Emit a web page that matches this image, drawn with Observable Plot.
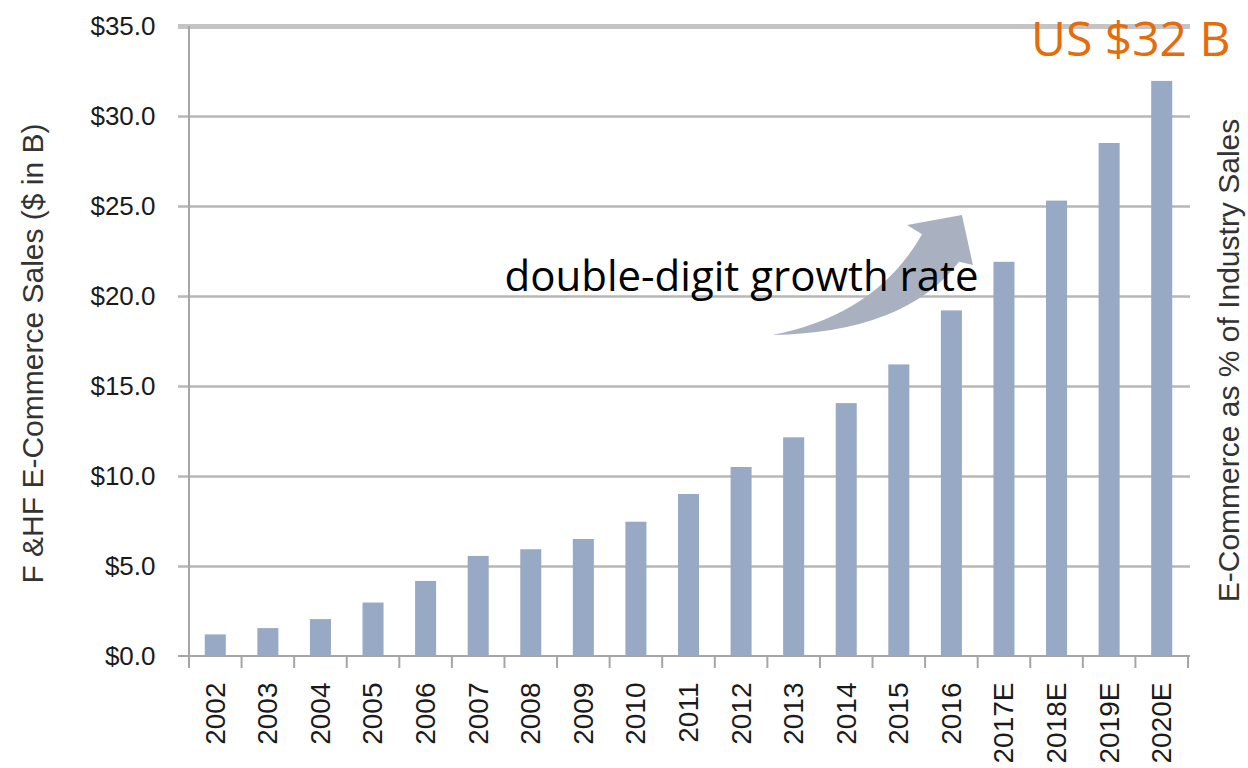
<!DOCTYPE html>
<html><head><meta charset="utf-8">
<script src="https://cdn.jsdelivr.net/npm/d3@7"></script>
<script src="https://cdn.jsdelivr.net/npm/@observablehq/plot@0.6"></script>
<style>
body{margin:0;background:#fff}
#chart{position:relative;width:1248px;height:768px}
</style>
</head><body><div id="chart"></div>
<script>
const years = ["2002","2003","2004","2005","2006","2007","2008","2009","2010","2011","2012","2013","2014","2015","2016","2017E","2018E","2019E","2020E"];
const sales = [1.2,1.55,2.05,2.97,4.17,5.56,5.93,6.5,7.46,9.0,10.5,12.15,14.05,16.2,19.2,21.9,25.3,28.5,31.95];
const yTicks = [0,5,10,15,20,25,30,35];
const yAxisTitle = "F &HF E-Commerce Sales ($ in B)";
const y2AxisTitle = "E-Commerce as % of Industry Sales";
const calloutText = "US $32 B";
const annotationText = "double-digit growth rate";
const annotationAt = {x: "2012", y: 20.33};
const arrowTail = {x: "2013", shift: -0.41, y: 17.83};
const arrowTip = {x: "2016", shift: 0.2, y: 24.5};

const data = years.map((year, i) => ({year, value: sales[i]}));

function bandGeom(x) {
  const bw = x.bandwidth();
  const step = x(years[1]) - x(years[0]);
  return {bw, step};
}

function axisLines(index, scales, values, dims) {
  const {x, y} = scales;
  const {bw, step} = bandGeom(x);
  const g = d3.create("svg:g").attr("stroke", "#a6a6a6").attr("stroke-width", 2);
  const yb = y(0), yt = y(35);
  const bounds = years.map(d => x(d) + bw / 2 - step / 2);
  bounds.push(bounds[bounds.length - 1] + step);
  g.append("line").attr("x1", bounds[0]).attr("x2", bounds[0]).attr("y1", yt).attr("y2", yb + 12);
  g.append("line").attr("x1", bounds[0] - 11).attr("x2", bounds[bounds.length - 1] + 2).attr("y1", yb).attr("y2", yb);
  bounds.slice(1).forEach(b => {
    g.append("line").attr("x1", b).attr("x2", b).attr("y1", yb).attr("y2", yb + 12);
  });
  return g.node();
}

function arrowShape(index, scales, values, dims) {
  const {x, y} = scales;
  const {bw, step} = bandGeom(x);
  const px = p => x(p.x) + bw / 2 + p.shift * step;
  const T = [px(arrowTail), y(arrowTail.y)];
  const P = [px(arrowTip), y(arrowTip.y)];
  const dx = P[0] - T[0], dy = P[1] - T[1];
  const at = (u, v) => `${T[0] + u * dx},${T[1] + v * dy}`;
  const d = `M${at(0,0)} Q${at(0.55,0.17)} ${at(0.79,0.84)} L${at(0.711,0.917)} L${at(1,1)} L${at(1.058,0.583)} L${at(0.985,0.61)} Q${at(0.70,0.02)} ${at(0,0)} Z`;
  return d3.create("svg:path").attr("d", d).attr("fill", "#a9b0bf").node();
}

const tickFont = "'Liberation Sans', Arial, sans-serif";
const noteFont = "'Open Sans', Lato, sans-serif";

const chart = Plot.plot({
  width: 1248,
  height: 768,
  marginLeft: 189,
  marginRight: 60,
  marginTop: 26,
  marginBottom: 112,
  x: {domain: years, paddingInner: 0.6, paddingOuter: 0.3, round: false, axis: null},
  y: {domain: [0, 35], axis: null},
  marks: [
    Plot.ruleY(yTicks.filter(d => d > 0 && d < 35), {stroke: "#b7b7b7", strokeWidth: 2.5, insetLeft: -11, insetRight: -2}),
    Plot.ruleY([35], {stroke: "#c4c4c4", strokeWidth: 5, insetLeft: -11, insetRight: -2}),
    Plot.barY(data, {x: "year", y: "value", fill: "#98a9c6"}),
    axisLines,
    Plot.axisY(yTicks, {tickSize: 0, tickPadding: 34, tickFormat: d => "$" + d.toFixed(1), fontSize: 26, fontFamily: tickFont, fill: "#1a1a1a", label: null}),
    Plot.text(years, {x: d => d, frameAnchor: "bottom", dy: 26, rotate: -90, textAnchor: "end", lineAnchor: "middle", fontSize: 28, fontFamily: tickFont, fill: "#1a1a1a"}),
    Plot.text([yAxisTitle], {frameAnchor: "left", dx: -156, dy: 12, rotate: -90, textAnchor: "middle", lineAnchor: "middle", fontSize: 30, fontFamily: tickFont, fill: "#333"}),
    Plot.text([y2AxisTitle], {frameAnchor: "right", dx: 41, dy: 19, rotate: -90, textAnchor: "middle", lineAnchor: "middle", fontSize: 30, fontFamily: tickFont, fill: "#333"}),
    arrowShape,
    Plot.text([annotationText], {x: () => annotationAt.x, y: () => annotationAt.y, textAnchor: "middle", lineAnchor: "bottom", fontSize: 42, fontFamily: noteFont, fill: "#000"}),
    Plot.text([calloutText], {frameAnchor: "top-right", dx: 42, dy: 29, textAnchor: "end", lineAnchor: "bottom", fontSize: 48, fontFamily: noteFont, fill: "#e46c0a"})
  ]
});
document.getElementById("chart").appendChild(chart);
</script>
</body></html>
